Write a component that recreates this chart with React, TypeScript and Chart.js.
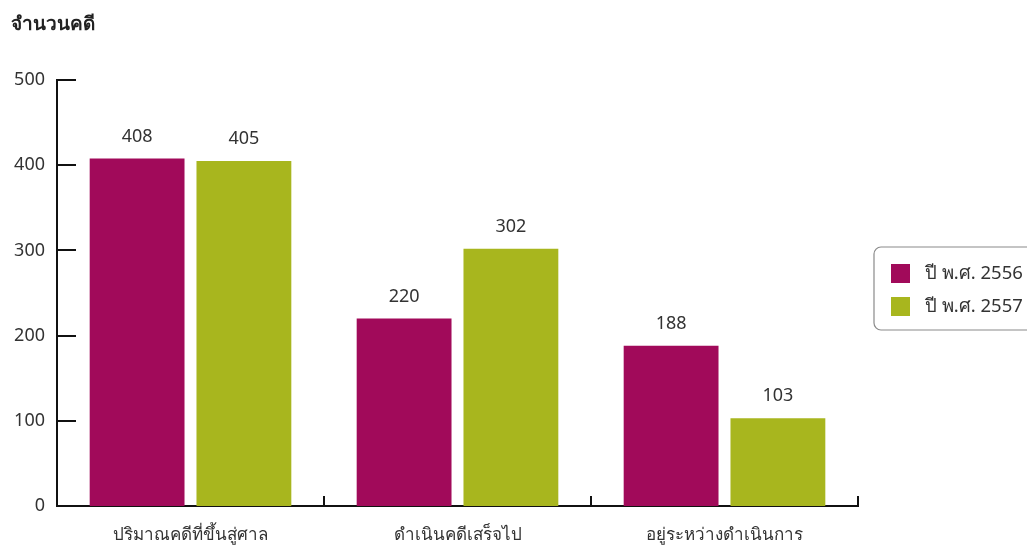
import React, { useEffect, useRef } from "react";
import { Chart, registerables } from "chart.js";

Chart.register(...registerables);

const title = "จำนวนคดี";
const categories = ["ปริมาณคดีที่ขึ้นสู่ศาล", "ดำเนินคดีเสร็จไป", "อยู่ระหว่างดำเนินการ"];
const seriesLabels = ["ปี พ.ศ. 2556", "ปี พ.ศ. 2557"];
const series2556 = [408, 220, 188];
const series2557 = [405, 302, 103];
const yTickValues = [0, 100, 200, 300, 400, 500];
const seriesColors = ["#a10a5a", "#a8b61e"];

const FONT = "'Noto Sans', 'Open Sans', sans-serif";
const TEXT = "#333333";

const extrasPlugin = {
  id: "extras",
  afterDraw(chart: any) {
    const ctx = chart.ctx as CanvasRenderingContext2D;
    const y = chart.scales.y;
    const area = chart.chartArea;
    ctx.save();
    // y tick marks (inside)
    ctx.strokeStyle = "#111";
    ctx.lineWidth = 2;
    yTickValues.forEach((v) => {
      if (v === 0) return;
      const py = Math.round(y.getPixelForValue(v));
      ctx.beginPath();
      ctx.moveTo(area.left, py);
      ctx.lineTo(area.left + 19, py);
      ctx.stroke();
    });
    // x boundary tick marks (upward)
    const n = categories.length;
    for (let i = 1; i <= n; i++) {
      const px = Math.round(area.left + ((area.right - area.left) * i) / n);
      ctx.beginPath();
      ctx.moveTo(px, area.bottom);
      ctx.lineTo(px, area.bottom - 10);
      ctx.stroke();
    }
    // data labels
    ctx.fillStyle = TEXT;
    ctx.font = `18px ${FONT}`;
    ctx.textAlign = "center";
    ctx.textBaseline = "middle";
    chart.data.datasets.forEach((ds: any, di: number) => {
      const meta = chart.getDatasetMeta(di);
      meta.data.forEach((bar: any, i: number) => {
        ctx.fillText(String(ds.data[i]), bar.x, bar.y - 22);
      });
    });
    // title
    ctx.font = `bold 19px ${FONT}`;
    ctx.textAlign = "left";
    ctx.fillStyle = "#222";
    ctx.fillText(title, 11, 25);
    // legend
    const lx = 874, ly = 247, lw = 170, lh = 83, r = 7;
    ctx.strokeStyle = "#8a8a8a";
    ctx.lineWidth = 1.2;
    ctx.beginPath();
    ctx.moveTo(lx + r, ly);
    ctx.lineTo(lx + lw - r, ly);
    ctx.arcTo(lx + lw, ly, lx + lw, ly + r, r);
    ctx.lineTo(lx + lw, ly + lh - r);
    ctx.arcTo(lx + lw, ly + lh, lx + lw - r, ly + lh, r);
    ctx.lineTo(lx + r, ly + lh);
    ctx.arcTo(lx, ly + lh, lx, ly + lh - r, r);
    ctx.lineTo(lx, ly + r);
    ctx.arcTo(lx, ly, lx + r, ly, r);
    ctx.closePath();
    ctx.stroke();
    ctx.font = `18.5px ${FONT}`;
    chart.data.datasets.forEach((ds: any, di: number) => {
      const sy = 264 + di * 33;
      ctx.fillStyle = ds.backgroundColor;
      ctx.fillRect(891, sy, 19, 19);
      ctx.fillStyle = TEXT;
      ctx.fillText(ds.label, 925, sy + 10);
    });
    ctx.restore();
  },
};

export default function App() {
  const ref = useRef<HTMLCanvasElement | null>(null);
  useEffect(() => {
    if (!ref.current) return;
    const chart = new Chart(ref.current, {
      type: "bar",
      data: {
        labels: categories,
        datasets: [
          {
            label: seriesLabels[0],
            data: series2556,
            backgroundColor: seriesColors[0],
            categoryPercentage: 0.8,
            barPercentage: 0.888,
          },
          {
            label: seriesLabels[1],
            data: series2557,
            backgroundColor: seriesColors[1],
            categoryPercentage: 0.8,
            barPercentage: 0.888,
          },
        ],
      },
      options: {
        animation: false,
        responsive: true,
        maintainAspectRatio: false,
        layout: { padding: { top: 80, right: 169, left: 0, bottom: 0 } },
        plugins: {
          legend: { display: false },
          tooltip: { enabled: false },
          title: { display: false },
        },
        scales: {
          x: {
            grid: { display: false, drawTicks: false },
            border: { display: true, color: "#111", width: 2 },
            ticks: { color: TEXT, font: { size: 17, family: FONT }, padding: 19 },
            afterFit: (s: any) => {
              s.height = 40;
            },
          },
          y: {
            min: 0,
            max: 500,
            grid: { display: false, drawTicks: false },
            border: { display: true, color: "#111", width: 2 },
            ticks: {
              stepSize: 100,
              color: TEXT,
              font: { size: 18, family: FONT },
              padding: 12,
            },
            afterFit: (s: any) => {
              s.width = 57;
            },
          },
        },
      },
      plugins: [extrasPlugin],
    });
    return () => chart.destroy();
  }, []);
  return (
    <div style={{ position: "fixed", left: 0, top: 0, width: 1027, height: 546, background: "#fff" }}>
      <canvas ref={ref} />
    </div>
  );
}
